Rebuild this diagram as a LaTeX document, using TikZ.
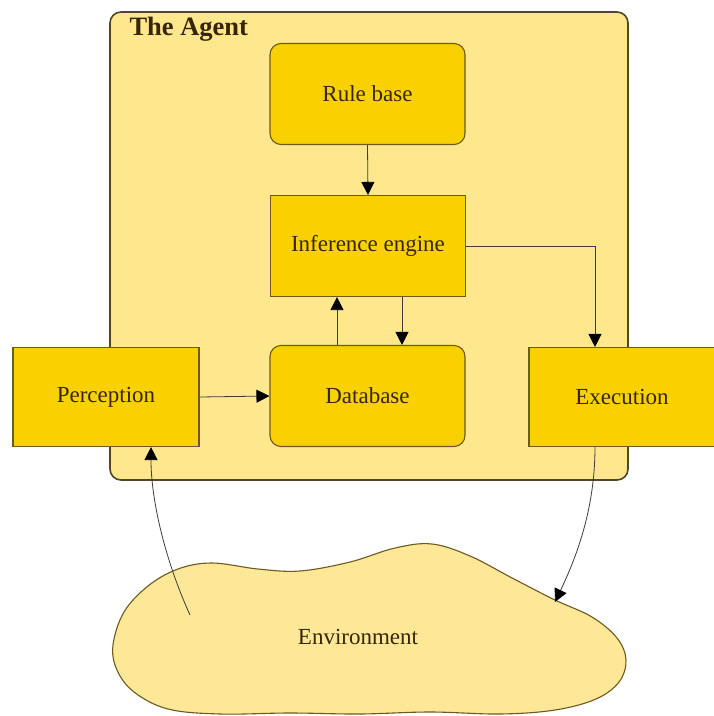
\documentclass[tikz,border=0pt]{standalone}
\usepackage{fontspec}
\setmainfont{Liberation Serif}
\usetikzlibrary{arrows.meta}
\definecolor{agentfill}{RGB}{254,231,140}
\definecolor{boxfill}{RGB}{250,209,0}
\definecolor{cloudfill}{RGB}{252,232,150}
\definecolor{bordercol}{RGB}{110,90,30}
\definecolor{agentborder}{RGB}{80,70,45}
\definecolor{textcol}{RGB}{55,38,5}
\definecolor{linecol}{RGB}{60,60,60}
\tikzset{
  box/.style={draw=bordercol, line width=1.1pt, fill=boxfill, text=textcol,
    minimum width=195pt, minimum height=101pt, inner sep=0pt,
    font=\fontsize{23}{27}\selectfont},
  rbox/.style={box, rounded corners=11pt},
  conn/.style={draw=linecol, line width=0.8pt,
    -{Triangle[length=13pt,width=13pt,color=black]}},
}
\begin{document}
\begin{tikzpicture}[x=1pt,y=-1pt]
\useasboundingbox (0,0) rectangle (714,716);
\fill[white] (0,0) rectangle (714,716);
% agent frame
\draw[agentborder, line width=1.6pt, fill=agentfill, rounded corners=11pt] (110,12) rectangle (628,480);
\node[anchor=base west, text=textcol, font=\fontsize{26.5}{30}\selectfont\bfseries] (agent) at (126,35) {The Agent};
% boxes
\node[rbox] (rule) at (367.5,94) {Rule base};
\node[box] (inf) at (368,246) {Inference engine};
\node[rbox] (db) at (367.5,396) {Database};
\node[box, minimum width=186pt, minimum height=99pt] (perc) at (106,397) {Perception};
\node[box, minimum width=186pt, minimum height=99pt] (exec) at (622,397) {Execution};
% environment cloud
\draw[bordercol, line width=1.1pt, fill=cloudfill] plot[smooth cycle, tension=0.6] coordinates {
  (113,645) (124,612) (148,586) (178,569) (212,563) (258,569) (300,571)
  (350,562) (395,548) (432,544) (470,556) (514,579) (555,600) (592,617)
  (617,638) (626,660) (619,682) (596,699) (555,710) (500,714) (430,712)
  (360,714) (290,713) (220,714) (168,709) (134,692) (117,670)};
\node[text=textcol, font=\fontsize{23}{27}\selectfont] (env) at (358,637) {Environment};
\coordinate (envin) at (555,602);
\coordinate (envout) at (190,615);
% connectors
\draw[conn] (rule.south) -- (inf.north);
\draw[conn] (inf.east) -| (exec.north -| 595,0);
\draw[conn] ([xshift=-31pt]inf.south |- db.north) -- ([xshift=-31pt]inf.south);
\draw[conn] ([xshift=34pt]inf.south) -- ([xshift=34pt]inf.south |- db.north);
\draw[conn] (perc.east) -- (db.west);
\draw[conn] (exec.south -| 595,0) .. controls +(0,64) and +(20,-42) .. (envin);
\draw[conn] (envout) .. controls +(-25,-55) and +(0,53) .. (perc.south -| 151,0);
\end{tikzpicture}
\end{document}
